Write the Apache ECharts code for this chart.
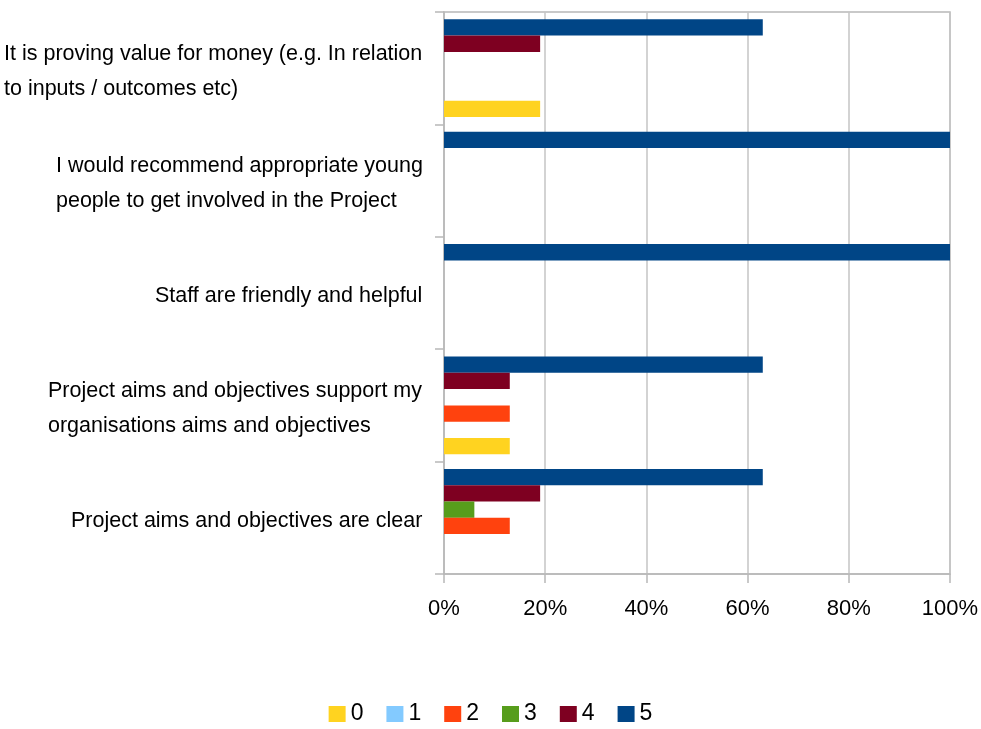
<!DOCTYPE html>
<html>
<head>
<meta charset="utf-8">
<script src="https://cdn.jsdelivr.net/npm/echarts@6/dist/echarts.min.js"></script>
<style>
  html, body { margin: 0; padding: 0; background: #ffffff; }
  #chart { width: 981px; height: 729px; }
</style>
</head>
<body>
<div id="chart"></div>
<script>
// Survey statements, listed bottom to top on the category axis
const categories = [
  'Project aims and objectives are clear',
  'Project aims and objectives support my\norganisations aims and objectives',
  'Staff are friendly and helpful',
  'I would recommend appropriate young\npeople to get involved in the Project',
  'It is proving value for money (e.g. In relation\nto inputs / outcomes etc)'
];

// Rating scores (legend entries)
const scoreNames = ['0', '1', '2', '3', '4', '5'];

// Share of responses (%) per score, one value per statement
const score0 = [0, 13, 0, 0, 19];
const score1 = [0, 0, 0, 0, 0];
const score2 = [13, 13, 0, 0, 0];
const score3 = [6, 0, 0, 0, 0];
const score4 = [19, 13, 0, 0, 19];
const score5 = [63, 63, 100, 100, 63];

const scoreValues = [score0, score1, score2, score3, score4, score5];
const scoreColors = ['#ffd320', '#83caff', '#ff420e', '#579d1c', '#7e0021', '#004586'];

const FONT_FAMILY = '"Liberation Sans", Arial, sans-serif';
const LABEL_SIZE = 21.5;

// Multi-line statements are left-aligned inside a block that sits right-aligned
// against the axis; measure each block so its lines can share one width.
const measureCtx = document.createElement('canvas').getContext('2d');
measureCtx.font = LABEL_SIZE + 'px ' + FONT_FAMILY;
const labelRich = {};
categories.forEach(function (text, i) {
  const w = Math.max.apply(null, text.split('\n').map(function (s) {
    return measureCtx.measureText(s).width;
  }));
  labelRich['c' + i] = {
    width: Math.ceil(w) + 1,
    align: 'left',
    fontSize: LABEL_SIZE,
    fontFamily: FONT_FAMILY,
    lineHeight: 35,
    color: '#000000'
  };
});

const chart = echarts.init(document.getElementById('chart'), null, { renderer: 'canvas' });

// Score 5 is listed first so it sits at the top of each group, score 0 at the bottom
const series = scoreNames.map(function (name, i) {
  return {
    name: name,
    type: 'bar',
    data: scoreValues[i],
    barGap: '0%',
    barCategoryGap: '13%',
    itemStyle: { color: scoreColors[i] },
    emphasis: { disabled: true }
  };
}).reverse();

chart.setOption({
  animation: false,
  backgroundColor: '#ffffff',
  grid: {
    left: 444,
    right: 31,
    top: 12,
    bottom: 155,
    show: true,
    borderColor: '#b8b8b8',
    borderWidth: 1.5,
    containLabel: false,
    outerBoundsMode: 'none'
  },
  legend: {
    data: scoreNames,
    left: 'center',
    top: 701,
    padding: 0,
    icon: 'rect',
    itemWidth: 17,
    itemHeight: 16,
    itemGap: 23,
    textStyle: { fontSize: 23, fontFamily: FONT_FAMILY, color: '#000000', lineHeight: 26 }
  },
  xAxis: {
    type: 'value',
    min: 0,
    max: 100,
    interval: 20,
    axisLine: { show: true, lineStyle: { color: '#b8b8b8', width: 1.5 } },
    axisTick: { show: true, length: 9, lineStyle: { color: '#b8b8b8', width: 1.5 } },
    splitLine: { show: true, lineStyle: { color: '#c4c4c4', width: 1.5 } },
    axisLabel: {
      formatter: '{value}%',
      margin: 24,
      fontSize: 22,
      fontFamily: FONT_FAMILY,
      color: '#000000'
    }
  },
  yAxis: {
    type: 'category',
    data: categories,
    axisLine: { show: true, lineStyle: { color: '#b8b8b8', width: 1.5 } },
    axisTick: { show: true, length: 9, lineStyle: { color: '#b8b8b8', width: 1.5 } },
    splitLine: { show: false },
    axisLabel: {
      margin: 20,
      align: 'right',
      interval: 0,
      padding: [6, 0, 0, 0],
      formatter: function (value, index) {
        return value.split('\n').map(function (line) {
          return '{c' + index + '|' + line + '}';
        }).join('\n');
      },
      rich: labelRich
    }
  },
  series: series
});
</script>
</body>
</html>
